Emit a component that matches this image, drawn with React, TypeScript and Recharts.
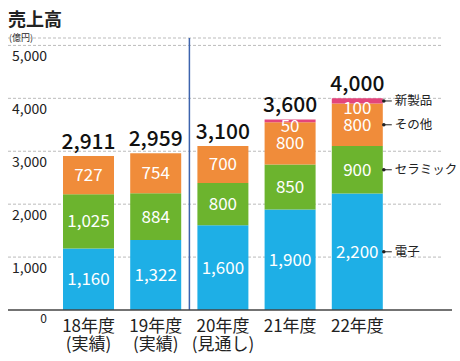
import React from 'react';
import { BarChart, Bar, XAxis, YAxis, CartesianGrid, LabelList, ReferenceLine } from 'recharts';

// 売上高 (億円) by fiscal year
const categories = ['18年度', '19年度', '20年度', '21年度', '22年度'];
const subLabels = ['(実績)', '(実績)', '(見通し)', '', ''];
const electronics = [1160, 1322, 1600, 1900, 2200];
const ceramics = [1025, 884, 800, 850, 900];
const others = [727, 754, 700, 800, 800];
const newProducts = [0, 0, 0, 50, 100];
const totals = [2911, 2959, 3100, 3600, 4000];
const yTicks = [0, 1000, 2000, 3000, 4000, 5000];

const seriesNames = {
  electronics: '電子',
  ceramics: 'セラミック',
  others: 'その他',
  newProducts: '新製品',
};

const FONT = '"Noto Sans CJK JP", "Noto Sans", sans-serif';
const fmt = (v: number) => v.toLocaleString('en-US');
const last = categories.length - 1;

const data = categories.map((c, i) => ({
  name: c,
  electronics: electronics[i],
  ceramics: ceramics[i],
  others: others[i],
  newProducts: newProducts[i],
}));

const box = (props: any) => {
  const vb = props.viewBox || props;
  return { x: Number(vb.x), y: Number(vb.y), width: Number(vb.width), height: Number(vb.height) };
};

const Annotation = ({ x, y, text }: { x: number; y: number; text: string }) => (
  <g>
    <circle cx={x + 1} cy={y} r={1.8} fill="#222" />
    <line x1={x + 1} y1={y} x2={x + 9} y2={y} stroke="#222" strokeWidth={1} />
    <text x={x + 12} y={y + 4.5} fontSize={12.5} fill="#222" fontFamily={FONT}>
      {text}
    </text>
  </g>
);

const Total = ({ x, y, i }: { x: number; y: number; i: number }) => (
  <text x={x} y={y} textAnchor="middle" fontSize={21} fontWeight={500} fill="#111" fontFamily={FONT}>
    {fmt(totals[i])}
  </text>
);

// label content gets the category name as value, so the index is found from it
const segmentLabel = (seriesKey: keyof typeof seriesNames, values: number[]) => (props: any) => {
  const { x, y, width, height } = box(props);
  const i = categories.indexOf(String(props.value));
  if (i < 0) return null;
  const cy = y + height / 2;
  return (
    <g>
      <text x={x + width / 2} y={cy + 6} textAnchor="middle" fontSize={17} fill="#fff" fontFamily={FONT}>
        {fmt(values[i])}
      </text>
      {seriesKey === 'others' && newProducts[i] === 0 && <Total x={x + width / 2} y={y - 7} i={i} />}
      {i === last && <Annotation x={x + width} y={cy} text={seriesNames[seriesKey]} />}
    </g>
  );
};

const topLabel = (props: any) => {
  const { x, y, width, height } = box(props);
  const i = categories.indexOf(String(props.value));
  if (i < 0 || newProducts[i] === 0) return null;
  return (
    <g>
      <Total x={x + width / 2} y={y - 7} i={i} />
      <text x={x + width / 2} y={y + height + 10} textAnchor="middle" fontSize={17} fill="#fff" fontFamily={FONT}>
        {fmt(newProducts[i])}
      </text>
      {i === last && <Annotation x={x + width} y={y + height / 2} text={seriesNames.newProducts} />}
    </g>
  );
};

const XTick = (props: any) => {
  const { x, y, payload } = props;
  const i = payload.index;
  return (
    <g>
      <text x={x} y={y + 14} textAnchor="middle" fontSize={17} fill="#222" fontFamily={FONT}>
        {payload.value}
      </text>
      {subLabels[i] && (
        <text x={x} y={y + 32} textAnchor="middle" fontSize={17} fill="#222" fontFamily={FONT}>
          {subLabels[i]}
        </text>
      )}
    </g>
  );
};

const YTick = (props: any) => {
  const { y, payload } = props;
  const v = Number(payload.value);
  return (
    <text x={47} y={y + (v === 0 ? 13 : 16)} textAnchor="end" fontSize={v === 0 ? 12 : 14} fill="#222" fontFamily={FONT}>
      {fmt(v)}
    </text>
  );
};

const gridLine = (props: any) => {
  const { x1, y1, x2, y2, y, height } = props;
  if (y1 >= y + height - 1) return <g key={props.key} />;
  return <line key={props.key} x1={x1} y1={y1} x2={x2 - 10} y2={y2} stroke="#bbb" strokeDasharray="3 2" strokeWidth={1} />;
};

export default function App() {
  return (
    <div style={{ position: 'absolute', left: 0, top: 0, width: 460, height: 361, background: '#fff', fontFamily: FONT }}>
      <div style={{ position: 'absolute', left: 8, top: 5, fontSize: 18, fontWeight: 700, color: '#222' }}>売上高</div>
      <div style={{ position: 'absolute', left: 9, top: 31, fontSize: 9, color: '#222' }}>(億円)</div>
      <BarChart width={460} height={361} data={data} margin={{ top: 38, right: 8, bottom: 6, left: 7 }}>
        <CartesianGrid vertical={false} horizontal={gridLine} />
        <XAxis
          dataKey="name"
          height={45}
          padding={{ left: 47, right: 61 }}
          tickLine={false}
          axisLine={{ stroke: '#444', strokeWidth: 1.5 }}
          tick={<XTick />}
          interval={0}
        />
        <YAxis
          width={1}
          domain={[0, 5140]}
          ticks={yTicks}
          interval={0}
          axisLine={false}
          tickLine={false}
          tick={<YTick />}
        />
        <ReferenceLine x="19年度" position="end" stroke="#3d64ae" strokeWidth={1.5} />
        <Bar dataKey="electronics" stackId="a" fill="#1eafe6" barSize={51} isAnimationActive={false}>
          <LabelList dataKey="name" content={segmentLabel('electronics', electronics)} />
        </Bar>
        <Bar dataKey="ceramics" stackId="a" fill="#6cb42e" barSize={51} isAnimationActive={false}>
          <LabelList dataKey="name" content={segmentLabel('ceramics', ceramics)} />
        </Bar>
        <Bar dataKey="others" stackId="a" fill="#f08c3a" barSize={51} isAnimationActive={false}>
          <LabelList dataKey="name" content={segmentLabel('others', others)} />
        </Bar>
        <Bar dataKey="newProducts" stackId="a" fill="#e3457c" barSize={51} isAnimationActive={false}>
          <LabelList dataKey="name" content={topLabel} />
        </Bar>
      </BarChart>
    </div>
  );
}
